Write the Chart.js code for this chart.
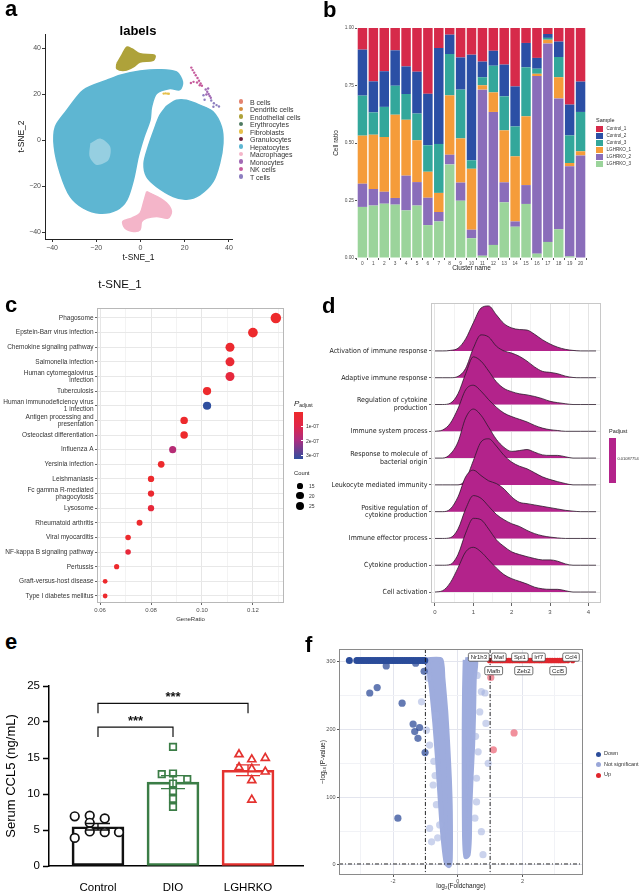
<!DOCTYPE html>
<html>
<head>
<meta charset="utf-8">
<title>Multi-panel figure</title>
<script src="https://cdn.jsdelivr.net/npm/chart.js@4.4.1/dist/chart.umd.min.js"></script>
<style>
html,body{margin:0;padding:0;background:#fff;}
#fig{position:relative;width:642px;height:894px;overflow:hidden;font-family:'Liberation Sans',Arial,Helvetica,sans-serif;color:#222;}
#fig canvas{position:absolute;}
.t{position:absolute;white-space:nowrap;line-height:1;}
.lt{position:absolute;font-weight:bold;font-size:22px;line-height:22px;color:#000;}
</style>
</head>
<body>
<div id="fig">
  <canvas id="cA" width="321" height="290" style="left:0;top:0"></canvas>
  <canvas id="cB" width="321" height="290" style="left:321px;top:0"></canvas>
  <canvas id="cC" width="321" height="330" style="left:0;top:295px"></canvas>
  <canvas id="cD" width="321" height="330" style="left:321px;top:295px"></canvas>
  <canvas id="cE" width="321" height="234" style="left:0;top:660px"></canvas>
  <canvas id="cF" width="324" height="254" style="left:318px;top:640px"></canvas>
  <div class="lt" style="left:5px;top:-2px">a</div>
  <div class="lt" style="left:323px;top:-1px">b</div>
  <div class="lt" style="left:5px;top:294px">c</div>
  <div class="lt" style="left:322px;top:295px">d</div>
  <div class="lt" style="left:5px;top:631px">e</div>
  <div class="lt" style="left:305px;top:634px">f</div>
</div>
<script>
// ===================== DATA =====================
// ---- panel a : t-SNE (cluster outlines in t-SNE units) ----
const TSNE_TICKS = [-40, -20, 0, 20, 40];
const CELL_TYPES = ["B cells","Dendritic cells","Endothelial cells","Erythrocytes","Fibroblasts","Granulocytes","Hepatocytes","Macrophages","Monocytes","NK cells","T cells"];
const HEP_LEFT = [[-33.3,13.0],[-25.8,21.7],[-15.2,26.0],[-9.2,28.2],[-0.2,30.0],[8.8,30.6],[16.3,29.6],[19.0,25.3],[17.8,21.9],[13.3,22.4],[7.3,20.2],[5.0,14.4],[4.3,8.7],[1.6,1.4],[-1.0,-7.2],[-3.2,-17.3],[-6.2,-26.0],[-10.7,-30.3],[-18.2,-31.8],[-25.8,-29.6],[-31.8,-24.5],[-36.3,-14.4],[-39.0,-2.9],[-38.5,5.8]];
const HEP_RIGHT = [[11.8,14.7],[16.3,17.3],[20.8,17.3],[26.8,15.2],[32.8,12.3],[36.6,5.8],[37.3,-1.4],[35.8,-10.1],[32.8,-18.1],[26.8,-23.8],[20.8,-25.7],[14.8,-24.5],[7.3,-20.2],[2.8,-15.9],[1.6,-10.1],[3.5,-2.9],[6.1,4.3],[8.8,10.8]];
const HEP_HOLE = [[-22.7,-1.4],[-18.2,0.7],[-13.7,-2.9],[-14.5,-8.7],[-19.7,-10.8],[-23.0,-7.2]];
const ENDO = [[-10.7,33.2],[-8.5,36.8],[-6.2,40.4],[-4.0,39.7],[-0.2,37.5],[6.5,36.8],[5.8,34.7],[-0.2,33.9],[-3.2,31.8],[-7.0,30.3],[-10.7,31.0]];
const MACRO = [[2.8,-22.4],[7.3,-24.5],[11.8,-27.4],[14.0,-31.0],[12.5,-33.9],[7.3,-33.2],[2.8,-33.9],[0.5,-35.4],[-0.2,-39.0],[-3.2,-39.7],[-7.0,-38.3],[-8.0,-35.4],[-4.0,-33.9],[-0.2,-31.8],[1.3,-27.4]];
const NK_PTS = [[23.0,31.5],[23.6,30.4],[24.3,29.3],[25.0,28.2],[25.8,27.0],[26.5,25.8],[27.2,24.6],[27.8,23.6],[25.6,25.0],[26.8,23.8],[22.8,24.8],[24.0,25.3]];
const MONO_PTS = [[29.5,22.0],[30.2,21.0],[30.8,20.0],[31.3,19.2],[29.8,19.8],[30.6,22.4],[31.8,18.4]];
const T_PTS = [[32.0,17.2],[33.2,16.0],[34.4,15.2],[35.5,14.6],[33.0,14.5],[28.5,19.5],[29.0,17.5]];
const FIBRO_PTS = [[10.5,20.2],[11.3,20.3],[12.1,20.2],[12.8,20.1]];

// ---- panel b : cell ratio per cluster ----
const CLUSTERS = ["0","1","2","3","4","5","6","7","8","9","10","11","12","13","14","15","16","17","18","19","20"];
const SAMPLES = ["Control_1","Control_2","Control_3","LGHRKO_1","LGHRKO_2","LGHRKO_3"];
const CONTROL_1 = [.094,.232,.188,.097,.167,.190,.286,.087,.029,.128,.116,.146,.099,.159,.254,.065,.130,.026,.059,.333,.233];
const CONTROL_2 = [.200,.135,.155,.154,.120,.182,.224,.417,.084,.140,.459,.068,.065,.138,.174,.106,.047,.017,.067,.134,.132];
const CONTROL_3 = [.174,.097,.131,.126,.112,.116,.115,.213,.180,.212,.037,.035,.116,.148,.130,.213,.022,.008,.088,.120,.171];
const LGHRKO_1 = [.209,.236,.238,.362,.243,.182,.113,.083,.258,.192,.265,.019,.085,.226,.283,.299,.010,.016,.092,.014,.018];
const LGHRKO_2 = [.101,.072,.052,.029,.151,.102,.119,.041,.042,.079,.037,.722,.578,.087,.023,.082,.772,.863,.569,.392,.446];
const LGHRKO_3 = [.222,.228,.236,.232,.207,.228,.143,.159,.407,.249,.086,.010,.057,.242,.136,.235,.019,.070,.125,.007,.000];
const B_YTICKS = [0, 0.25, 0.5, 0.75, 1];

// ---- panel c : KEGG enrichment ----
const KEGG_TERMS = ["Phagosome","Epstein-Barr virus infection","Chemokine signaling pathway","Salmonella infection",["Human cytomegalovirus","infection"],"Tuberculosis",["Human immunodeficiency virus","1 infection"],["Antigen processing and","presentation"],"Osteoclast differentiation","Influenza A","Yersinia infection","Leishmaniasis",["Fc gamma R-mediated","phagocytosis"],"Lysosome","Rheumatoid arthritis","Viral myocarditis","NF-kappa B signaling pathway","Pertussis","Graft-versus-host disease","Type I diabetes mellitus"];
const GENE_RATIO = [0.129,0.120,0.111,0.111,0.111,0.102,0.102,0.093,0.093,0.0885,0.084,0.080,0.080,0.080,0.0755,0.071,0.071,0.0665,0.062,0.062];
const GENE_COUNT = [29,27,25,25,25,23,23,21,21,20,19,18,18,18,17,16,16,15,14,14];
const P_ADJUST = [5e-9,1e-8,1.5e-8,3e-8,6e-8,1e-8,3.3e-7,1e-8,1e-8,1.8e-7,1e-8,1e-8,2e-8,5e-8,1e-8,1e-8,5e-8,1e-8,1e-8,1e-8];
const C_XTICKS = [0.06,0.07,0.08,0.09,0.10,0.11,0.12,0.13];
const C_XLABELS = ["0.06","","0.08","","0.10","","0.12",""];
const PADJ_TICKS = ["1e-07","2e-07","3e-07"];
const COUNT_LEGEND = [15,20,25];

// ---- panel d : GO ridge plot ----
const RIDGE_TERMS = ["Activation of immune response","Adaptive immune response",["Regulation of cytokine","production"],"Immune system process",["Response to molecule of","bacterial origin"],"Leukocyte mediated immunity",["Positive regulation of","cytokine production"],"Immune effector process","Cytokine production","Cell activation"];
const RIDGE_X = [0,0.2,0.4,0.6,0.8,1.0,1.2,1.4,1.6,1.8,2.0,2.2,2.4,2.6,2.8,3.0,3.2,3.4,3.6,3.8,4.0,4.2];
const RIDGE_DENSITY = [
  [0,0,0.02,0.10,0.45,1.05,1.60,1.68,1.35,1.02,0.86,0.80,0.78,0.62,0.42,0.26,0.14,0.06,0.02,0,0,0],
  [0,0,0,0.05,0.35,1.10,1.60,1.52,1.18,1.00,0.92,0.80,0.62,0.40,0.24,0.20,0.15,0.06,0.01,0,0,0],
  [0,0,0.05,0.40,1.15,1.78,1.62,1.25,0.85,0.60,0.48,0.40,0.36,0.30,0.22,0.12,0.07,0.03,0,0,0,0],
  [0,0.05,0.30,0.85,1.55,1.72,1.50,1.18,0.90,0.68,0.55,0.45,0.35,0.22,0.12,0.06,0.03,0,0,0,0,0],
  [0,0,0.15,0.60,1.50,1.83,1.60,1.15,0.70,0.40,0.25,0.28,0.32,0.22,0.12,0.10,0.10,0.05,0,0,0,0],
  [0,0,0,0,0.20,0.90,1.60,1.72,1.45,1.10,0.85,0.70,0.60,0.45,0.30,0.20,0.12,0.05,0,0,0,0],
  [0,0,0.10,0.55,1.30,1.55,1.35,1.15,1.05,0.85,0.55,0.35,0.30,0.25,0.20,0.15,0.10,0.05,0.02,0,0,0],
  [0,0,0.03,0.35,1.10,1.60,1.50,1.20,0.90,0.70,0.55,0.45,0.30,0.18,0.10,0.05,0.02,0,0,0,0,0],
  [0,0,0.03,0.40,1.20,1.75,1.70,1.35,0.95,0.70,0.50,0.40,0.32,0.25,0.20,0.20,0.15,0.05,0,0,0,0],
  [0,0.05,0.35,0.90,1.50,1.67,1.50,1.20,0.90,0.65,0.50,0.40,0.30,0.18,0.12,0.10,0.10,0.05,0,0,0,0]
];
const D_XTICKS = [0,0.5,1,1.5,2,2.5,3,3.5,4];
const D_XLABELS = ["0","","1","","2","","3","","4"];
const D_PADJ_LABEL = "0.01087754";

// ---- panel e : serum CCL5 ----
const GROUPS = ["Control","DIO","LGHRKO"];
const MEANS = [5.45, 11.65, 13.3];
const SEMS = [0.45, 0.9, 0.75];
const CONTROL_VALUES = [6.9, 7.0, 6.6, 6.0, 4.8, 4.7, 4.7, 3.9];
const DIO_VALUES = [16.55, 12.75, 12.85, 12.06, 11.46, 10.39, 9.32, 8.2];
const LGHRKO_VALUES = [15.5, 14.8, 15.0, 13.7, 13.5, 13.1, 11.9, 9.2];
const E_YTICKS = [0, 5, 10, 15, 20, 25];
const SIG_FROM = [0, 0];
const SIG_TO = [1, 2];
const SIG_Y = [19.3, 22.6];
const SIG_LABEL = ["***", "***"];

// ---- panel f : volcano ----
const DOWN_GENES = [[-3.35,302],[-3.12,302],[-3.05,302],[-2.97,302],[-2.9,302],[-2.83,302],[-2.76,302],[-2.69,302],[-2.62,302],[-2.55,302],[-2.48,302],[-2.41,302],[-2.34,302],[-2.27,302],[-2.2,302],[-2.13,302],[-2.06,302],[-1.99,302],[-1.92,302],[-1.85,302],[-1.78,302],[-1.71,302],[-1.64,302],[-1.57,302],[-1.5,302],[-1.43,302],[-1.36,302],[-1.29,302],[-1.22,302],[-1.15,302],[-1.08,302],[-1.02,302]];
const DOWN_SCATTER = [[-2.21,294],[-2.72,254],[-2.49,262],[-1.72,239],[-1.38,208],[-1.18,203],[-1.33,197],[-1.23,187],[-1.01,166],[-1.85,69],[-1.30,298],[-1.04,286]];
const UP_GENES = [[0.98,302],[1.05,302],[1.12,302],[1.2,302],[1.28,302],[1.35,302],[1.42,302],[1.5,302],[1.58,302],[1.65,302],[1.72,302],[1.8,302],[1.88,302],[1.95,302],[2.02,302],[2.1,302],[2.18,302],[2.25,302],[2.33,302],[2.4,302],[2.48,302],[2.55,302],[2.62,302],[2.7,302],[2.78,302],[2.85,302],[2.92,302],[3.0,302],[3.08,302],[3.15,302],[3.22,302],[3.3,302],[3.4,302],[3.55,302]];
const UP_SCATTER = [[1.02,277],[1.74,195],[1.10,170]];
const NS_LEFT = [[-0.95,303],[-0.52,303],[-0.46,276],[-0.37,226],[-0.31,177],[-0.26,128],[-0.23,79],[-0.23,10],[-0.27,-1],[-0.35,2],[-0.41,20],[-0.49,60],[-0.56,110],[-0.63,160],[-0.71,210],[-0.8,255],[-0.88,285]];
const NS_RIGHT = [[0.23,303],[0.55,303],[0.51,276],[0.49,226],[0.46,177],[0.41,128],[0.37,79],[0.36,40],[0.32,15],[0.25,12],[0.21,40],[0.20,120],[0.20,200],[0.21,260]];
const NS_SCATTER = [[-1.12,241],[-0.97,199],[-0.87,177],[-0.76,118],[-0.87,54],[-0.81,34],[-0.56,59],[-0.68,221],[-0.92,276],[-0.66,89],[-0.74,153],[-0.62,40],[-0.70,132],[0.73,256],[0.84,254],[0.87,209],[0.63,167],[0.94,150],[0.58,93],[0.53,69],[0.78,15],[0.58,128],[0.68,226],[0.73,49],[0.60,280],[0.55,190]];
const GENE_LABELS = ["Nr1h3","Maf","Spi1","Irf7","Ccl4","Mafb","Zeb2","Ccl5"];
const FC_CUTS = [-1, 1];
const P_CUT = 1.3;
const F_XTICKS = [-3,-2,-1,0,1,2,3];
const F_XLABELS = ["","-2","","0","","2",""];
const F_YTICKS = [0,50,100,150,200,250,300];
const F_YLABELS = ["0","","100","","200","","300"];
const F_GROUPS = ["Down","Not significant","Up"];

// ===================== STYLE / LAYOUT =====================
const FONT = "'Liberation Sans', Arial, Helvetica, sans-serif";
const NARROW = "'Liberation Sans Narrow', 'DejaVu Sans Condensed', 'Liberation Sans', sans-serif";
Chart.defaults.font.family = FONT;
const CELL_COLORS = ["#e3826f","#d48c3e","#aea23a","#4f7a61","#e6c04a","#6d1f3c","#5eb6d2","#f4b5c9","#a169b4","#c65b9c","#8c7ec0"];
const SAMPLE_COLORS = ["#d62a4a","#2b4fa5","#33a79b","#f59c3a","#8a6dba","#9bd49b"];
const GROUP_COLORS = ["#111111","#3b7d46","#e4322f"];
const GROUP_STYLES = ["circle","rect","triangle"];
const GROUP_JITTER = [[-0.31,-0.11,0.09,-0.11,-0.11,0.09,0.28,-0.31],[0,-0.15,0,0.19,0,0,0,0],[-0.12,0.05,0.23,-0.12,0.05,0.23,0.05,0.05]];
const GENE_LABEL_POS = [[0.65,307],[1.27,307],[1.92,307],[2.5,307],[3.5,307],[1.11,287],[2.04,287],[3.1,287]];
const F_COLORS = ["#2b4c9a","#9aa7d8","#e0262d"];
const RIDGE_FILL = "#b3238b";

function box(W,H,L,T,R,B){ return {padding:{left:0,top:T,right:W-R,bottom:0}, yFit:s=>{s.width=L;}, xFit:s=>{s.height=H-B;}}; }
function fixTicks(vals){ return s=>{ s.ticks = vals.map(v=>({value:v})); }; }
const minus = v => (v < 0 ? "\u2212" + Math.abs(v) : String(v));
const framePlugin = {id:'frame', afterDraw(chart, args, o){ if(!o || !o.color) return; const a=chart.chartArea, c=chart.ctx; c.save(); c.strokeStyle=o.color; c.lineWidth=o.width||1; c.strokeRect(Math.round(a.left)+0.5, Math.round(a.top)+0.5, Math.round(a.right-a.left)-1, Math.round(a.bottom-a.top)-1); c.restore(); }};
function opts(bx, scales, plugins){
  return {responsive:false, animation:false, devicePixelRatio:1, events:[], layout:{padding:bx.padding},
    plugins:Object.assign({legend:{display:false}, tooltip:{enabled:false}}, plugins||{}), scales};
}
const toXY = arr => arr.map(p=>({x:p[0], y:p[1]}));
const closed = arr => toXY(arr.concat([arr[0]]));

// ===================== PANEL A =====================
(function(){
  const bx = box(321,290,45,34,232,239);
  const poly = (pts,color,order,bw)=>({type:'line', data:closed(pts), fill:'shape', backgroundColor:color, borderColor:color, borderWidth:bw===undefined?1.5:bw, pointRadius:0, tension:0.3, order});
  const dots = (pts,color,order)=>({type:'scatter', data:toXY(pts), backgroundColor:color, borderWidth:0, pointRadius:1.2, order});
  const tickFont = {size:7};
  new Chart(document.getElementById('cA'), {
    type:'scatter',
    data:{datasets:[
      poly(HEP_LEFT, CELL_COLORS[6], 10),
      poly(HEP_RIGHT, CELL_COLORS[6], 9),
      poly(HEP_HOLE, 'rgba(255,255,255,0.35)', 8, 0),
      poly(ENDO, CELL_COLORS[2], 7),
      poly(MACRO, CELL_COLORS[7], 6),
      dots(FIBRO_PTS, CELL_COLORS[4], 5),
      dots(NK_PTS, CELL_COLORS[9], 4),
      dots(MONO_PTS, CELL_COLORS[8], 3),
      dots(T_PTS, CELL_COLORS[10], 2)
    ]},
    options: opts(bx, {
      x:{type:'linear', min:-43.2, max:41.4, afterFit:bx.xFit, afterBuildTicks:fixTicks(TSNE_TICKS),
         ticks:{callback:minus, font:tickFont, color:'#4d4d4d', padding:1.5, maxRotation:0, autoSkip:false},
         grid:{drawOnChartArea:false, drawTicks:true, tickLength:3, tickColor:'#333'}, border:{color:'#222', width:1},
         title:{display:true, text:'t-SNE_1', font:{size:8.5}, color:'#111', padding:{top:0, bottom:26.9}}},
      y:{type:'linear', min:-43, max:46.1, afterFit:bx.yFit, afterBuildTicks:fixTicks(TSNE_TICKS),
         ticks:{callback:minus, font:tickFont, color:'#4d4d4d', padding:1, autoSkip:false},
         grid:{drawOnChartArea:false, drawTicks:true, tickLength:3, tickColor:'#333'}, border:{color:'#222', width:1},
         title:{display:true, text:'t-SNE_2', font:{size:8.5}, color:'#111', padding:{top:16.9, bottom:0}}}
    })
  });
})();

// ===================== PANEL B =====================
(function(){
  const bx = box(321,290,36,28,265,258);
  const series = [LGHRKO_3, LGHRKO_2, LGHRKO_1, CONTROL_3, CONTROL_2, CONTROL_1];
  const names = [SAMPLES[5],SAMPLES[4],SAMPLES[3],SAMPLES[2],SAMPLES[1],SAMPLES[0]];
  const cols = [SAMPLE_COLORS[5],SAMPLE_COLORS[4],SAMPLE_COLORS[3],SAMPLE_COLORS[2],SAMPLE_COLORS[1],SAMPLE_COLORS[0]];
  new Chart(document.getElementById('cB'), {
    type:'bar',
    data:{labels:CLUSTERS, datasets:series.map((d,i)=>({label:names[i], data:d, backgroundColor:cols[i], borderWidth:0, barPercentage:0.87, categoryPercentage:1}))},
    options: opts(bx, {
      x:{stacked:true, afterFit:bx.xFit, ticks:{font:{size:4.8}, color:'#4d4d4d', padding:0.5, maxRotation:0, autoSkip:false},
         grid:{drawOnChartArea:false, drawTicks:true, tickLength:2, tickColor:'#555', offset:true}, border:{display:false},
         title:{display:true, text:'Cluster name', font:{size:6.5}, color:'#222', padding:{top:0,bottom:18.1}}},
      y:{stacked:true, min:0, max:1, afterFit:bx.yFit, afterBuildTicks:fixTicks(B_YTICKS),
         ticks:{callback:v=>v.toFixed(2), font:{size:4.8}, color:'#4d4d4d', padding:1},
         grid:{drawOnChartArea:false, drawTicks:true, tickLength:2, tickColor:'#555'}, border:{display:false},
         title:{display:true, text:'Cell ratio', font:{size:6.5}, color:'#222', padding:{top:11.1,bottom:0}}}
    })
  });
})();

// ===================== PANEL C =====================
const PADJ_STOPS = [[0,[238,42,42]],[1e-7,[224,38,74]],[2e-7,[172,45,128]],[3.3e-7,[47,79,159]]];
function padjColor(p){
  for(let i=1;i<PADJ_STOPS.length;i++){
    if(p<=PADJ_STOPS[i][0]){ const a=PADJ_STOPS[i-1], b=PADJ_STOPS[i]; const t=(p-a[0])/(b[0]-a[0]);
      return 'rgb('+a[1].map((c,k)=>Math.round(c+(b[1][k]-c)*t)).join(',')+')'; }
  }
  const l=PADJ_STOPS[PADJ_STOPS.length-1][1]; return 'rgb('+l.join(',')+')';
}
const countRadius = n => 2.4 + (n-14)*0.19;
(function(){
  const bx = box(321,330,97,13,284,308);
  const n = KEGG_TERMS.length;
  new Chart(document.getElementById('cC'), {
    type:'scatter',
    data:{datasets:[{data:KEGG_TERMS.map((t,i)=>({x:GENE_RATIO[i], y:n-i})), pointRadius:GENE_COUNT.map(countRadius),
      backgroundColor:P_ADJUST.map(padjColor), borderWidth:0}]},
    options: opts(bx, {
      x:{type:'linear', min:0.0588, max:0.1322, afterFit:bx.xFit, afterBuildTicks:fixTicks(C_XTICKS),
         ticks:{callback:(v,i)=>C_XLABELS[i], font:{size:6}, color:'#4d4d4d', padding:1.5, maxRotation:0, autoSkip:false},
         grid:{color:c=>C_XLABELS[c.index]?'#e6e6e6':'#f3f3f3', tickColor:c=>C_XLABELS[c.index]?'#666':'rgba(0,0,0,0)', tickLength:2}, border:{display:false},
         title:{display:true, text:'GeneRatio', font:{size:6}, color:'#333', padding:{top:0,bottom:2.5}}},
      y:{type:'linear', min:0.52, max:20.68, afterFit:bx.yFit, afterBuildTicks:fixTicks(KEGG_TERMS.map((t,i)=>i+1)),
         ticks:{callback:v=>KEGG_TERMS[n-v], font:{size:6.5, lineHeight:1.1}, color:'#333', padding:1.5, autoSkip:false},
         grid:{color:'#e8e8e8', tickColor:'#666', tickLength:2}, border:{display:false}}
    }, {frame:{color:'#b8b8b8', width:1}}),
    plugins:[framePlugin]
  });
})();

// ===================== PANEL D =====================
(function(){
  const bx = box(321,330,110,8,280,308);
  const n = RIDGE_TERMS.length;
  const ds = RIDGE_TERMS.map((t,i)=>{
    const base = n-1-i;
    return {type:'line', data:RIDGE_X.map((x,k)=>({x, y:base+RIDGE_DENSITY[i][k]})), fill:{value:base},
      backgroundColor:RIDGE_FILL, borderColor:'#2b1a2b', borderWidth:0.8, pointRadius:0, cubicInterpolationMode:'monotone', order:n-i};
  });
  new Chart(document.getElementById('cD'), {
    type:'line',
    data:{datasets:ds},
    options: opts(bx, {
      x:{type:'linear', min:-0.104, max:4.33, afterFit:bx.xFit, afterBuildTicks:fixTicks(D_XTICKS),
         ticks:{callback:(v,i)=>D_XLABELS[i], font:{size:6}, color:'#4d4d4d', padding:3, maxRotation:0, autoSkip:false},
         grid:{color:c=>D_XLABELS[c.index]?'#e4e4e4':'#f2f2f2', tickColor:c=>D_XLABELS[c.index]?'#666':'rgba(0,0,0,0)', tickLength:3}, border:{display:false}},
      y:{type:'linear', min:-0.41, max:10.79, afterFit:bx.yFit, afterBuildTicks:fixTicks(RIDGE_TERMS.map((t,i)=>i)),
         ticks:{callback:v=>RIDGE_TERMS[n-1-v], font:{size:7, family:NARROW, lineHeight:1.1}, color:'#222', padding:1.5, autoSkip:false},
         grid:{color:'#ececec', tickColor:'#666', tickLength:2}, border:{display:false}}
    }, {frame:{color:'#c8c8c8', width:1}}),
    plugins:[framePlugin]
  });
})();

// ===================== PANEL E =====================
(function(){
  const bx = box(321,234,49,26,303,206);
  const values = [CONTROL_VALUES, DIO_VALUES, LGHRKO_VALUES];
  const ann = {id:'eAnn', afterDatasetsDraw(chart){
    const {ctx, scales:{x,y}} = chart;
    ctx.save();
    GROUPS.forEach((g,i)=>{
      const cx=x.getPixelForValue(i), yt=y.getPixelForValue(MEANS[i]+SEMS[i]), yb=y.getPixelForValue(MEANS[i]-SEMS[i]);
      ctx.strokeStyle=GROUP_COLORS[i]; ctx.lineWidth=1.4; ctx.beginPath();
      ctx.moveTo(cx,yt); ctx.lineTo(cx,yb); ctx.moveTo(cx-12,yt); ctx.lineTo(cx+12,yt); ctx.moveTo(cx-12,yb); ctx.lineTo(cx+12,yb);
      ctx.stroke();
    });
    ctx.strokeStyle='#111'; ctx.lineWidth=1.2; ctx.fillStyle='#111';
    ctx.font='bold 13px '+FONT; ctx.textAlign='center'; ctx.textBaseline='alphabetic';
    SIG_Y.forEach((v,k)=>{
      const x1=x.getPixelForValue(SIG_FROM[k]), x2=x.getPixelForValue(SIG_TO[k]), py=y.getPixelForValue(v), pd=y.getPixelForValue(v-1.4);
      ctx.beginPath(); ctx.moveTo(x1,pd); ctx.lineTo(x1,py); ctx.lineTo(x2,py); ctx.lineTo(x2,pd); ctx.stroke();
      ctx.fillText(SIG_LABEL[k], (x1+x2)/2, py-2.4);
    });
    ctx.restore();
  }};
  const pts = values.map((vals,g)=>({type:'scatter', data:vals.map((v,k)=>({x:g+GROUP_JITTER[g][k], y:v})),
    pointStyle:GROUP_STYLES[g], pointRadius:g===0?4.3:4.6, backgroundColor:'#fff', borderColor:GROUP_COLORS[g], borderWidth:1.7, order:1}));
  new Chart(document.getElementById('cE'), {
    type:'bar',
    data:{datasets:[{type:'bar', data:GROUPS.map((g,i)=>({x:i, y:MEANS[i]})), backgroundColor:'rgba(0,0,0,0)', borderColor:GROUP_COLORS,
      borderWidth:2, borderSkipped:false, barThickness:52, order:3}].concat(pts)},
    options: opts(bx, {
      x:{type:'linear', offset:false, min:-0.653, max:2.733, afterFit:bx.xFit, afterBuildTicks:fixTicks([0,1,2]),
         ticks:{callback:v=>GROUPS[v], font:{size:11.5}, color:'#000', padding:7, maxRotation:0, autoSkip:false},
         grid:{display:false}, border:{color:'#000', width:1.5}},
      y:{type:'linear', min:0, max:25, afterFit:bx.yFit, afterBuildTicks:fixTicks(E_YTICKS),
         ticks:{font:{size:11.5}, color:'#000', padding:3},
         grid:{drawOnChartArea:false, drawTicks:true, tickLength:6, tickColor:'#000', tickWidth:1.5}, border:{color:'#000', width:1.5},
         title:{display:true, text:'Serum CCL5 (ng/mL)', font:{size:13}, color:'#000', padding:{top:3.2,bottom:0}}}
    }),
    plugins:[ann]
  });
})();

// ===================== PANEL F =====================
(function(){
  const bx = box(324,254,21,9,265,235);
  const ann = {id:'fAnn', afterDatasetsDraw(chart){
    const {ctx, chartArea:a, scales:{x,y}} = chart;
    ctx.save(); ctx.strokeStyle='#111'; ctx.lineWidth=0.9; ctx.setLineDash([4,2,1,2]);
    FC_CUTS.forEach(v=>{ const px=x.getPixelForValue(v); ctx.beginPath(); ctx.moveTo(px,a.top); ctx.lineTo(px,a.bottom); ctx.stroke(); });
    const py=y.getPixelForValue(P_CUT); ctx.beginPath(); ctx.moveTo(a.left,py); ctx.lineTo(a.right,py); ctx.stroke();
    ctx.setLineDash([]);
    ctx.font='6px '+FONT; ctx.textAlign='center'; ctx.textBaseline='middle';
    GENE_LABELS.forEach((g,i)=>{
      const cx=x.getPixelForValue(GENE_LABEL_POS[i][0]), cy=y.getPixelForValue(GENE_LABEL_POS[i][1]);
      const w=ctx.measureText(g).width+4.5, h=8.2;
      ctx.beginPath(); ctx.roundRect(cx-w/2, cy-h/2, w, h, 1.5); ctx.fillStyle='#fff'; ctx.fill();
      ctx.strokeStyle='#333'; ctx.lineWidth=0.7; ctx.stroke();
      ctx.fillStyle='#222'; ctx.fillText(g, cx, cy+0.3);
    });
    ctx.restore();
  }};
  const poly = (pts,color,order)=>({type:'line', data:closed(pts), fill:'shape', backgroundColor:color, borderColor:color, borderWidth:5, borderJoinStyle:'round', pointRadius:0, tension:0.2, order});
  const dots = (pts,color,r,order)=>({type:'scatter', data:toXY(pts), backgroundColor:color, borderWidth:0, pointRadius:r, order});
  new Chart(document.getElementById('cF'), {
    type:'scatter',
    data:{datasets:[
      dots(UP_GENES, F_COLORS[2], 2.8, 1),
      dots(UP_SCATTER, 'rgba(232,70,90,0.6)', 3.6, 2),
      dots(DOWN_GENES, F_COLORS[0], 3.5, 3),
      dots(DOWN_SCATTER, 'rgba(40,70,150,0.72)', 3.6, 4),
      dots(NS_SCATTER, 'rgba(160,174,222,0.55)', 3.6, 5),
      poly(NS_LEFT, '#9eacdd', 6),
      poly(NS_RIGHT, '#9eacdd', 7)
    ]},
    options: opts(bx, {
      x:{type:'linear', min:-3.67, max:3.87, afterFit:bx.xFit, afterBuildTicks:fixTicks(F_XTICKS),
         ticks:{callback:(v,i)=>F_XLABELS[i], font:{size:5.5}, color:'#4d4d4d', padding:1.5, maxRotation:0, autoSkip:false},
         grid:{color:c=>F_XLABELS[c.index]?'#e3e5ee':'#f1f2f6', tickColor:c=>F_XLABELS[c.index]?'#555':'rgba(0,0,0,0)', tickLength:2}, border:{display:false},
         title:{display:true, text:'log\u2082(Foldchange)', font:{size:6.5}, color:'#222', padding:{top:0,bottom:3.4}}},
      y:{type:'linear', min:-15, max:319, afterFit:bx.yFit, afterBuildTicks:fixTicks(F_YTICKS),
         ticks:{callback:(v,i)=>F_YLABELS[i], font:{size:5.5}, color:'#4d4d4d', padding:1.5, autoSkip:false},
         grid:{color:c=>F_YLABELS[c.index]?'#e3e5ee':'#f1f2f6', tickColor:c=>F_YLABELS[c.index]?'#555':'rgba(0,0,0,0)', tickLength:2}, border:{display:false},
         title:{display:true, text:'\u2212log\u2081\u2080(P-value)', font:{size:6.5}, color:'#222', padding:{top:1,bottom:0}}}
    }, {frame:{color:'#8a8a8a', width:1}}),
    plugins:[framePlugin, ann]
  });
})();

// ===================== HTML TEXT & LEGENDS =====================
const fig = document.getElementById('fig');
function tx(html, x, y, size, align, extra){
  const d=document.createElement('div'); d.className='t'; d.innerHTML=html;
  d.style.left=x+'px'; d.style.top=y+'px'; d.style.fontSize=size+'px';
  d.style.transform = align==='c' ? 'translate(-50%,-50%)' : 'translateY(-50%)';
  if(extra) Object.assign(d.style, extra);
  fig.appendChild(d); return d;
}
function shape(x,y,w,h,color,round){
  const d=document.createElement('div'); d.style.position='absolute';
  d.style.left=(x-w/2)+'px'; d.style.top=(y-h/2)+'px'; d.style.width=w+'px'; d.style.height=h+'px';
  d.style.background=color; if(round) d.style.borderRadius='50%'; fig.appendChild(d); return d;
}
// panel a
tx('labels', 138, 30, 13, 'c', {fontWeight:'bold', color:'#000'});
tx('t-SNE_1', 120, 285, 11.5, 'c', {color:'#111'});
CELL_TYPES.forEach((n,i)=>{ const y=101.7+i*7.5; shape(241,y,4.6,4.6,CELL_COLORS[i],true); tx(n,250,y,7,'l',{color:'#333'}); });
// panel b
tx('Sample', 596, 121, 5.5, 'l', {color:'#222'});
SAMPLES.forEach((n,i)=>{ const y=129+i*7.05; shape(599.5,y,7,6.3,SAMPLE_COLORS[i],false); tx(n,606.5,y,4.6,'l',{color:'#333'}); });
// panel c
tx('<i>P</i><span style="font-size:5px;vertical-align:-1.5px">adjust</span>', 294, 404, 8, 'l', {color:'#222'});
const cbar = shape(298.5, 435.5, 9, 47, '#000', false);
cbar.style.background = 'linear-gradient(to bottom, rgb(238,42,42) 0%, rgb(224,38,74) 30%, rgb(172,45,128) 60%, rgb(47,79,159) 100%)';
PADJ_TICKS.forEach((t,i)=>{ const y=426+i*14.5; shape(301.5,y,2,0.8,'#fff',false); tx(t,306,y,5,'l',{color:'#333'}); });
tx('Count', 294, 474, 5.8, 'l', {color:'#222'});
COUNT_LEGEND.forEach((c,i)=>{ const y=[486,495.5,506][i]; const r=countRadius(c); shape(300,y,2*r,2*r,'#000',true); tx(String(c),309,y,5,'l',{color:'#333'}); });
// panel d
tx('Padjust', 609, 432, 5.5, 'l', {color:'#222'});
shape(612.5, 460.5, 7, 45, RIDGE_FILL, false);
tx(D_PADJ_LABEL, 617.5, 459, 4, 'l', {color:'#333'});
// panel f
F_GROUPS.forEach((n,i)=>{ const y=[754,764.5,775][i]; shape(598,y,5,5,F_COLORS[i],true); tx(n,604,y,5.5,'l',{color:'#333'}); });
</script>
</body>
</html>
